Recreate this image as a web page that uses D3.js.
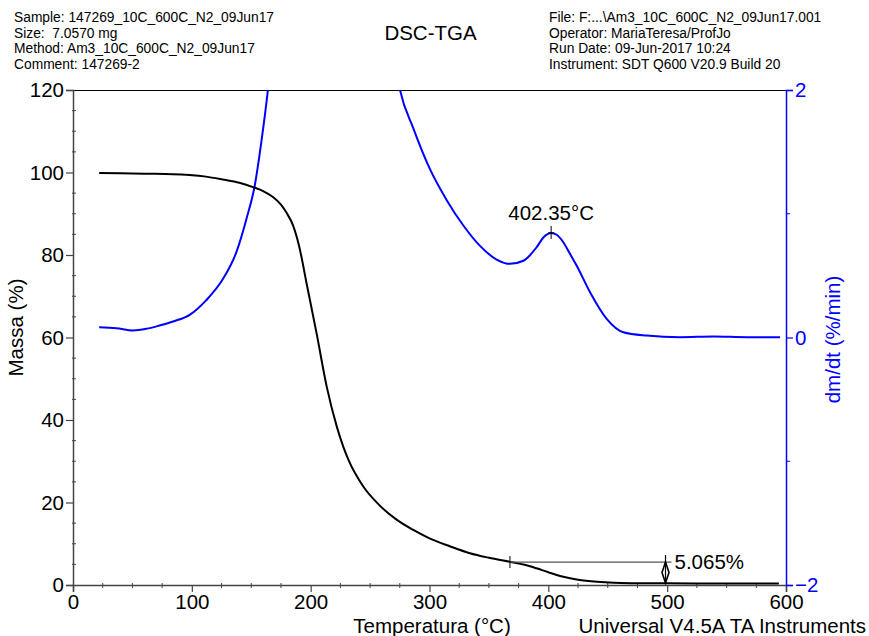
<!DOCTYPE html>
<html>
<head>
<meta charset="utf-8">
<script src="https://cdn.jsdelivr.net/npm/d3@7"></script>
<style>
  html, body { margin: 0; padding: 0; background: #fff; }
  svg { display: block; font-family: Arial, "Liberation Sans", sans-serif; }
</style>
</head>
<body>
<svg id="chart" width="869" height="636"></svg>
<script>
// Header blocks
const headerLeft = [
  "Sample: 147269_10C_600C_N2_09Jun17",
  "Size:  7.0570 mg",
  "Method: Am3_10C_600C_N2_09Jun17",
  "Comment: 147269-2"
];
const headerRight = [
  "File: F:...\\Am3_10C_600C_N2_09Jun17.001",
  "Operator: MariaTeresa/ProfJo",
  "Run Date: 09-Jun-2017 10:24",
  "Instrument: SDT Q600 V20.9 Build 20"
];
const chartTitle = "DSC-TGA";

// Mass loss curve (TGA): temperature (°C) and mass (%)
const massT = [22, 40, 60, 84, 98, 112, 126, 140, 152, 160, 168, 175, 180, 185, 190, 197, 205, 213.5, 222, 227.5, 232, 244, 258, 272, 286, 300, 317, 334, 350, 368, 380, 390, 400, 412.6, 425, 441, 455, 469, 500, 550, 594];
const massV = [99.9, 99.8, 99.7, 99.6, 99.4, 99.0, 98.3, 97.5, 96.4, 95.5, 94.1, 92.2, 90.1, 87.3, 82.5, 72.5, 61, 48.1, 38.4, 33.5, 30.2, 24, 19.3, 15.9, 13.4, 11.3, 9.4, 7.7, 6.6, 5.6, 4.9, 4.05, 3.1, 2.0, 1.3, 0.8, 0.55, 0.45, 0.4, 0.38, 0.36];

// Derivative curve (DTG): temperature (°C) and dm/dt (%/min)
const dtgT = [22, 36.5, 50.5, 61.7, 72.9, 84.2, 98.2, 112, 126, 137.5, 146, 153, 158.5, 164, 170, 180, 190, 200, 205, 210, 220, 230, 240, 250, 260, 268, 275.2, 286.4, 300.4, 314.5, 328.5, 342.5, 356.5, 367.7, 379, 390.2, 396, 402.35, 407, 412.6, 418, 423.9, 435.1, 449.1, 463.1, 482.8, 510.8, 539, 567, 595];
const dtgV = [0.083, 0.075, 0.057, 0.070, 0.097, 0.129, 0.183, 0.30, 0.47, 0.69, 0.96, 1.23, 1.58, 2.0, 2.6, 4.3, 8.5, 13.5, 14.8, 14.0, 10.0, 7.0, 5.0, 3.7, 2.9, 2.4, 2.0, 1.69, 1.36, 1.11, 0.905, 0.74, 0.63, 0.595, 0.62, 0.73, 0.81, 0.845, 0.83, 0.77, 0.68, 0.58, 0.366, 0.151, 0.043, 0.016, 0.003, 0.008, 0.003, 0.003];

// Annotations
const peakT = 402.35;
const peakV = 0.845;
const stepT1 = 367.7;
const stepT2 = 498.6;
const stepTop = 5.565;
const stepDelta = 5.065;

// Axis ticks
const xTicks = [0, 100, 200, 300, 400, 500, 600];
const yLeftTicks = [0, 20, 40, 60, 80, 100, 120];
const yRightTicks = [-2, 0, 2];

const svg = d3.select("#chart");
const L = 73, R = 786, T = 90, B = 585;
const FS = 20.5;      // axis text size
const HFS = 13.8;     // header text size
const FONT = "Arial, 'Liberation Sans', sans-serif";

const x = d3.scaleLinear().domain([0, 600]).range([L, R]);
const yM = d3.scaleLinear().domain([0, 120]).range([B, T]);
const yD = d3.scaleLinear().domain([-2, 2]).range([B, T]);

const black = "#000";
const blue = "#0000ff";
const axisGrey = "#444";

// Header text
const hl = svg.append("g").attr("font-size", HFS).attr("fill", "#000");
headerLeft.forEach((t, i) => hl.append("text").attr("x", 14).attr("y", 22 + i * 15.6).attr("xml:space", "preserve").text(t));
const hr = svg.append("g").attr("font-size", HFS).attr("fill", "#000");
headerRight.forEach((t, i) => hr.append("text").attr("x", 549).attr("y", 22 + i * 15.6).attr("xml:space", "preserve").text(t));
svg.append("text").attr("x", 430.5).attr("y", 40).attr("text-anchor", "middle").attr("font-size", 20.5).text(chartTitle);

// Clip region for curves
svg.append("defs").append("clipPath").attr("id", "plotClip")
  .append("rect").attr("x", L).attr("y", T).attr("width", R - L).attr("height", B - T);

// Top frame line
svg.append("line").attr("x1", L).attr("x2", R).attr("y1", T + 0.5).attr("y2", T + 0.5)
  .attr("stroke", black).attr("stroke-width", 1.2);

// Bottom axis
const gx = svg.append("g").attr("transform", `translate(0,${B})`)
  .call(d3.axisBottom(x).tickValues(xTicks).tickSize(7).tickPadding(2).tickFormat(d3.format("d")));
gx.select(".domain").attr("stroke", axisGrey).attr("stroke-width", 1.5);
gx.selectAll(".tick line").attr("stroke", axisGrey).attr("stroke-width", 1.2);
gx.selectAll(".tick text").attr("font-size", FS).attr("fill", "#000").attr("font-family", FONT);
gx.append("g").selectAll("line").data(d3.range(25, 600, 25).filter(v => v % 100 !== 0))
  .join("line").attr("x1", d => x(d)).attr("x2", d => x(d)).attr("y1", -2).attr("y2", 3)
  .attr("stroke", axisGrey).attr("stroke-width", 1);

// Left axis
const gy = svg.append("g").attr("transform", `translate(${L},0)`)
  .call(d3.axisLeft(yM).tickValues(yLeftTicks).tickSize(7).tickPadding(2).tickFormat(d3.format("d")));
gy.select(".domain").attr("stroke", axisGrey).attr("stroke-width", 1.5);
gy.selectAll(".tick line").attr("stroke", axisGrey).attr("stroke-width", 1.2);
gy.selectAll(".tick text").attr("font-size", FS).attr("fill", "#000").attr("font-family", FONT);
gy.append("g").selectAll("line").data(d3.range(5, 120, 5).filter(v => v % 20 !== 0))
  .join("line").attr("y1", d => yM(d)).attr("y2", d => yM(d)).attr("x1", -1).attr("x2", 3)
  .attr("stroke", axisGrey).attr("stroke-width", 1);

// Right axis (derivative)
const gr = svg.append("g").attr("transform", `translate(${R},0)`)
  .call(d3.axisRight(yD).tickValues(yRightTicks).tickSize(7).tickPadding(2).tickFormat(d3.format("d")));
gr.select(".domain").attr("stroke", blue).attr("stroke-width", 1.5);
gr.selectAll(".tick line").attr("stroke", blue).attr("stroke-width", 1.2);
gr.selectAll(".tick text").attr("font-size", FS).attr("fill", blue).attr("font-family", FONT);
gr.append("g").selectAll("line").data([-1, 1])
  .join("line").attr("y1", d => yD(d)).attr("y2", d => yD(d)).attr("x1", 0).attr("x2", 4)
  .attr("stroke", blue).attr("stroke-width", 1);

// Axis titles
svg.append("text").attr("transform", `translate(23,${(T + B) / 2 - 10}) rotate(-90)`)
  .attr("text-anchor", "middle").attr("font-size", FS).text("Massa (%)");
svg.append("text").attr("transform", `translate(840,${(T + B) / 2 + 2}) rotate(-90)`)
  .attr("text-anchor", "middle").attr("font-size", FS).attr("fill", blue).text("dm/dt (%/min)");
svg.append("text").attr("x", 432).attr("y", 633).attr("text-anchor", "middle").attr("font-size", FS).text("Temperatura (°C)");
svg.append("text").attr("x", 866).attr("y", 633).attr("text-anchor", "end").attr("font-size", FS).text("Universal V4.5A TA Instruments");

// Curves
const plot = svg.append("g").attr("clip-path", "url(#plotClip)");
const massData = massT.map((t, i) => [t, massV[i]]);
const dtgData = dtgT.map((t, i) => [t, dtgV[i]]);

plot.append("path").datum(dtgData)
  .attr("fill", "none").attr("stroke", blue).attr("stroke-width", 2)
  .attr("d", d3.line().x(d => x(d[0])).y(d => yD(d[1])).curve(d3.curveMonotoneX));

plot.append("path").datum(massData)
  .attr("fill", "none").attr("stroke", black).attr("stroke-width", 2)
  .attr("d", d3.line().x(d => x(d[0])).y(d => yM(d[1])).curve(d3.curveMonotoneX));

// Peak marker on derivative curve
const px = x(peakT), py = yD(peakV);
svg.append("line").attr("x1", px).attr("x2", px).attr("y1", py - 7).attr("y2", py + 6).attr("stroke", black).attr("stroke-width", 1);
svg.append("line").attr("x1", px - 3).attr("x2", px + 3).attr("y1", py).attr("y2", py).attr("stroke", black).attr("stroke-width", 1);
svg.append("text").attr("x", px).attr("y", py - 13).attr("text-anchor", "middle").attr("font-size", FS)
  .text(`${peakT.toFixed(2)}°C`);

// Step annotation on mass curve
const s1 = x(stepT1), s2 = x(stepT2), sTop = yM(stepTop), sBot = yM(stepTop - stepDelta);
svg.append("line").attr("x1", s1).attr("x2", s2 + 6).attr("y1", sTop).attr("y2", sTop).attr("stroke", "#555").attr("stroke-width", 1.2);
svg.append("line").attr("x1", s1).attr("x2", s1).attr("y1", sTop - 6).attr("y2", sTop + 6).attr("stroke", black).attr("stroke-width", 1);
svg.append("line").attr("x1", s2).attr("x2", s2).attr("y1", sTop - 7).attr("y2", sBot).attr("stroke", black).attr("stroke-width", 1.2);
// double-headed arrow between the two levels
const aw = 3.5;
const midY = (sTop + sBot) / 2;
svg.append("path")
  .attr("d", `M${s2},${sTop} L${s2 - aw},${midY} L${s2},${sBot} L${s2 + aw},${midY} Z`)
  .attr("fill", "#fff").attr("stroke", black).attr("stroke-width", 1.6);
svg.append("line").attr("x1", s2).attr("x2", s2).attr("y1", sTop).attr("y2", sBot).attr("stroke", black).attr("stroke-width", 1.2);
svg.append("text").attr("x", s2 + 9).attr("y", sTop + 7).attr("font-size", FS)
  .text(`${stepDelta.toFixed(3)}%`);
</script>
</body>
</html>
